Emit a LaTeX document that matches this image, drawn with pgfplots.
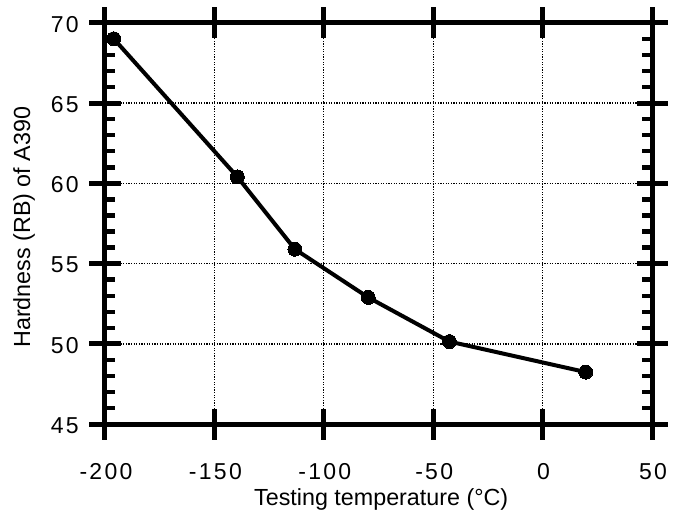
\documentclass[border=0pt]{standalone}
\usepackage{fontspec}
\setmainfont{Liberation Sans}
\newfontfamily\tickfont[LetterSpace=10]{Liberation Sans}
\usepackage{pgfplots}
\pgfplotsset{compat=1.18}
\begin{document}
\begin{tikzpicture}
\path[use as bounding box] (-105pt,-94.7pt) rectangle (572pt,424.3pt);
\begin{axis}[
  scale only axis,
  width=547pt, height=401.6pt,
  xmin=-200, xmax=50, ymin=45, ymax=70,
  xtick={-200,-150,-100,-50,0,50},
  ytick={45,50,55,60,65,70},
  xticklabels={-200,-150,-100,-50,0,50},
  yticklabels={45,50,55,60,65,70},
  /pgf/number format/assume math mode=true,
  tick label style={font=\tickfont\fontsize{23}{27}\selectfont, inner sep=0pt},
  xticklabel style={anchor=center, yshift=-31.5pt, xshift=1pt},
  yticklabel style={anchor=east, xshift=-10.5pt, yshift=-1.5pt},
  tick align=center,
  major tick length=31pt,
  major tick style={black, line width=5pt},
  axis line style={line width=5pt, line cap=rect},
  grid=major,
  major grid style={black, line width=1.2pt, dash pattern=on 1.2pt off 1.4pt},
  extra y ticks={46,47,48,49,51,52,53,54,56,57,58,59,61,62,63,64,66,67,68,69},
  extra y tick labels={},
  extra y tick style={tick align=inside, major tick length=10pt, grid=none, major tick style={black, line width=4.5pt}},
  label style={font=\fontsize{23.3}{28}\selectfont},
  xlabel={Testing temperature (°C)},
  ylabel={Hardness (RB) of A390},
  xlabel style={at={(axis description cs:0.505,-0.187)}, anchor=center},
  ylabel style={at={(axis description cs:-0.148,0.491)}, anchor=center},
  clip=false,
]
\addplot[black, line width=4pt, line join=round, mark=*, mark size=7pt, mark options={fill=black, line width=0pt}]
  coordinates {(-196,69.0) (-139.5,60.4) (-113.2,55.9) (-79.7,52.9) (-42.6,50.15) (19.7,48.25)};
\end{axis}
\end{tikzpicture}
\end{document}
